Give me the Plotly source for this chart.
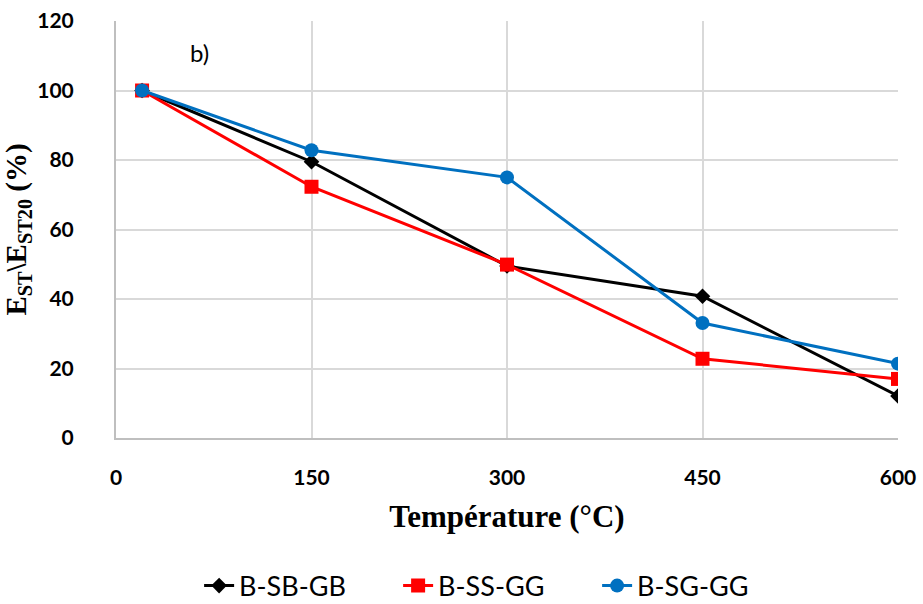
import plotly.graph_objects as go

temperature = [20, 150, 300, 450, 600]
b_sb_gb = [100, 79.5, 49.5, 40.8, 12.1]
b_ss_gg = [100, 72.3, 49.9, 22.8, 17.0]
b_sg_gg = [100, 82.8, 75.0, 33.1, 21.4]

x_ticks = [0, 150, 300, 450, 600]
y_ticks = [0, 20, 40, 60, 80, 100, 120]

fig = go.Figure()
fig.add_trace(go.Scatter(x=temperature, y=b_sb_gb, name="B-SB-GB", mode="lines+markers",
                         line=dict(color="#000000", width=3),
                         marker=dict(symbol="diamond", size=12, color="#000000")))
fig.add_trace(go.Scatter(x=temperature, y=b_ss_gg, name="B-SS-GG", mode="lines+markers",
                         line=dict(color="#ff0000", width=3),
                         marker=dict(symbol="square", size=14, color="#ff0000")))
fig.add_trace(go.Scatter(x=temperature, y=b_sg_gg, name="B-SG-GG", mode="lines+markers",
                         line=dict(color="#0070c0", width=3),
                         marker=dict(symbol="circle", size=14, color="#0070c0")))

fig.update_layout(
    width=923, height=604,
    margin=dict(l=116, r=25, t=21, b=166, autoexpand=False),
    plot_bgcolor="white", paper_bgcolor="white",
    showlegend=True,
    legend=dict(orientation="h", x=0.488, xanchor="center", y=-0.355, yanchor="middle",
                font=dict(family="Lato", size=27, color="#000000"),
                entrywidth=154, entrywidthmode="pixels", tracegroupgap=0),
    annotations=[dict(text="b)", x=55, y=111, xref="x", yref="y", showarrow=False,
                      xanchor="left", yanchor="middle",
                      font=dict(family="Lato", size=24, color="#000000"))],
)
fig.update_xaxes(range=[0, 600], tickvals=x_ticks, ticktext=[str(v) for v in x_ticks],
                 automargin=False,
                 showgrid=True, gridcolor="#d9d9d9", gridwidth=2,
                 showline=True, linecolor="#bfbfbf", linewidth=2,
                 zeroline=False, ticks="outside", ticklen=20, tickcolor="rgba(0,0,0,0)",
                 tickfont=dict(family="Lato", size=21, color="#000000", weight="bold"),
                 title=dict(text="<b>Température (°C)</b>", standoff=17,
                            font=dict(family="Liberation Serif", size=31, color="#000000")))
fig.update_yaxes(range=[0, 120], tickvals=y_ticks,
                 automargin=False,
                 showgrid=True, gridcolor="#d9d9d9", gridwidth=2,
                 showline=True, linecolor="#bfbfbf", linewidth=2,
                 zeroline=False, ticks="", ticklabelstandoff=36,
                 tickfont=dict(family="Lato", size=21, color="#000000", weight="bold"),
                 title=dict(text="<b>E<sub>ST</sub>\\E<sub>ST20</sub> (%)</b>", standoff=3,
                            font=dict(family="Liberation Serif", size=29, color="#000000")))

fig.write_html("out.html", config={"displayModeBar": False},
               post_script="document.body.style.margin='0';")
